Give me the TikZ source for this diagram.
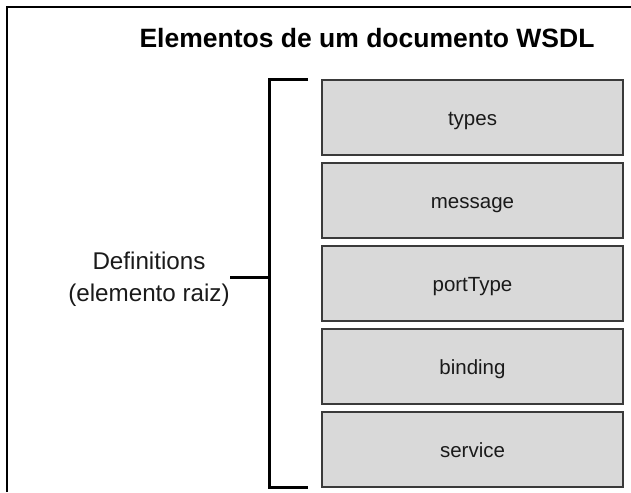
\documentclass[tikz,border=0pt]{standalone}
\usepackage{fontspec}
\setmainfont{Liberation Sans}
\definecolor{boxfill}{HTML}{D9D9D9}
\definecolor{boxline}{HTML}{3A3A3A}
\definecolor{txt}{HTML}{1A1A1A}
\tikzset{
  elem/.style={draw=boxline, line width=1.3pt, fill=boxfill, minimum width=301pt, minimum height=75pt, inner sep=0pt, text height=15pt, text depth=0pt, text=txt, font=\fontsize{20.5}{24}\selectfont},
  brack/.style={line width=3pt, black},
  frame/.style={line width=2pt, black}
}
\begin{document}
\begin{tikzpicture}[x=1pt,y=-1pt]
\useasboundingbox (0,0) rectangle (631,492);
\draw[frame] (7,492) -- (7,7) -- (631,7);
\node[font=\bfseries\fontsize{26.5}{30}\selectfont, text=black] (title) at (367,38) {Elementos de um documento WSDL};
\node[elem] (types) at (472.5,117.5) {types};
\node[elem] (message) at (472.5,200.5) {message};
\node[elem] (porttype) at (472.5,283.5) {portType};
\node[elem] (binding) at (472.5,366.5) {binding};
\node[elem] (service) at (472.5,449.5) {service};
\coordinate (btop) at (308,80);
\coordinate (bbot) at (308,487);
\coordinate (bx) at (269,0);
\coordinate (tk) at (230,277);
\draw[brack] (btop) -- (btop -| bx) -- (bbot -| bx) -- (bbot);
\draw[brack] (tk) -- (tk -| bx);
\node[align=center, text=txt, font=\fontsize{24.2}{32}\selectfont] (def) at (149,279) {Definitions\\(elemento raiz)};
\end{tikzpicture}
\end{document}
